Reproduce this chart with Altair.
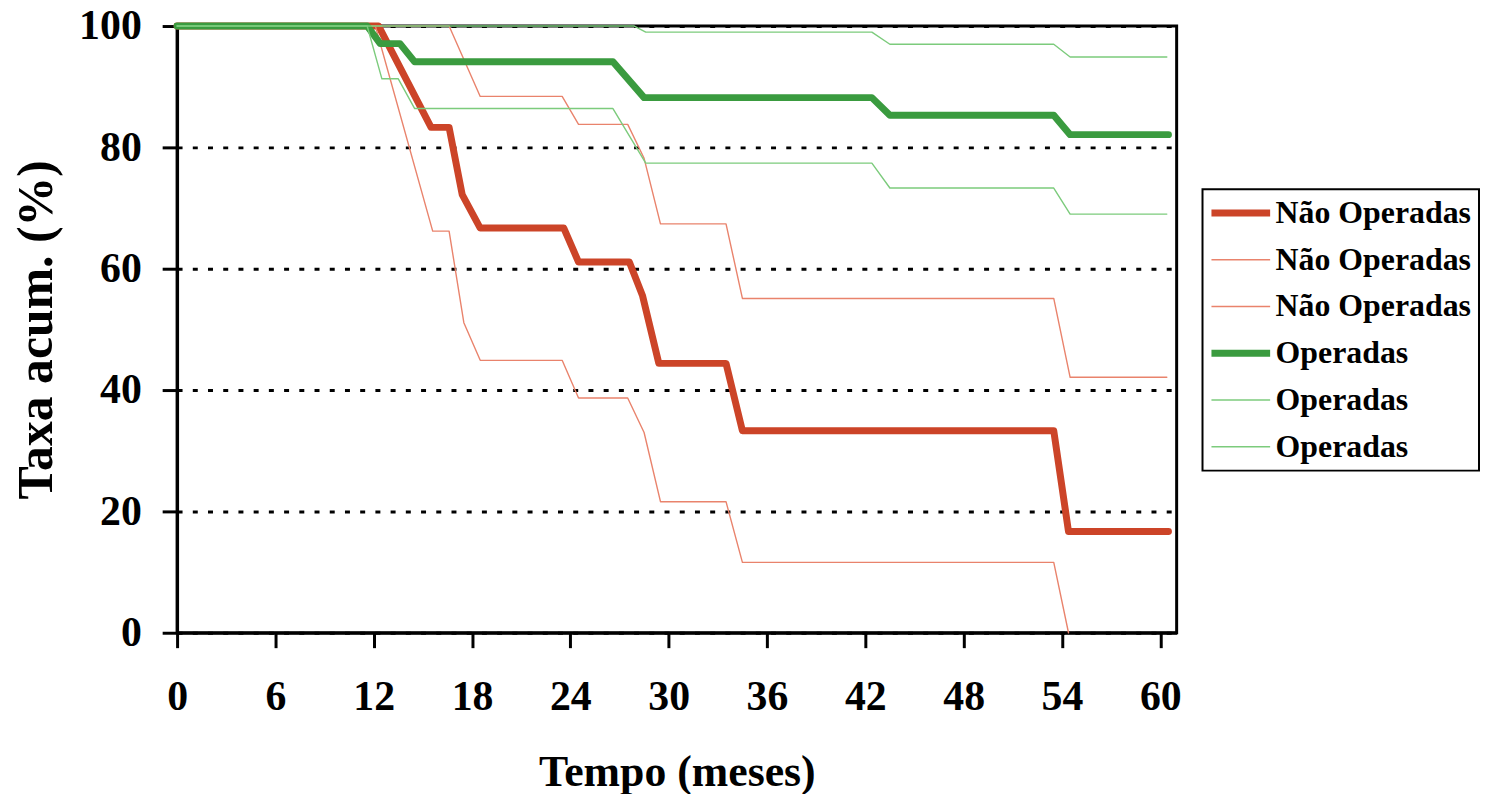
import altair as alt
import pandas as pd

# ---- data ----
series_names = [
    "Não Operadas",
    "Não Operadas · IC superior",
    "Não Operadas · IC inferior",
    "Operadas",
    "Operadas · IC superior",
    "Operadas · IC inferior",
]

nao_t = [0, 12.3, 15.5, 16.6, 17.4, 18.5, 23.6, 24.5, 27.6, 28.4, 29.4, 33.5, 34.5, 53.5, 54.4, 60.5]
nao_v = [100, 100, 83.3, 83.3, 72.2, 66.7, 66.7, 61.1, 61.1, 55.6, 44.4, 44.4, 33.3, 33.3, 16.7, 16.7]

nao_sup_t = [0, 16.6, 18.5, 23.5, 24.5, 27.5, 28.5, 29.5, 33.5, 34.5, 53.5, 54.5, 60.4]
nao_sup_v = [100, 100, 88.4, 88.4, 83.8, 83.8, 78.2, 67.4, 67.4, 55.1, 55.1, 42.1, 42.1]

nao_inf_t = [0, 12.1, 15.6, 16.6, 17.5, 18.5, 23.5, 24.5, 27.5, 28.5, 29.5, 33.5, 34.5, 53.5, 54.4]
nao_inf_v = [100, 100, 66.2, 66.2, 51.1, 44.9, 44.9, 38.7, 38.7, 33.0, 21.6, 21.6, 11.6, 11.6, 0]

op_t = [0, 11.6, 12.4, 13.6, 14.5, 26.6, 28.5, 42.4, 43.5, 53.5, 54.5, 60.5]
op_v = [100, 100, 97.1, 97.1, 94.1, 94.1, 88.2, 88.2, 85.3, 85.3, 82.1, 82.1]

op_sup_t = [0, 27.9, 28.6, 42.4, 43.5, 53.5, 54.5, 60.4]
op_sup_v = [100, 100, 99.0, 99.0, 97.0, 97.0, 94.9, 94.9]

op_inf_t = [0, 11.6, 12.5, 13.5, 14.5, 26.6, 28.6, 42.4, 43.5, 53.5, 54.5, 60.4]
op_inf_v = [100, 100, 91.3, 91.3, 86.4, 86.4, 77.4, 77.4, 73.3, 73.3, 69.0, 69.0]

x_ticks = [0, 6, 12, 18, 24, 30, 36, 42, 48, 54, 60]
y_ticks = [0, 20, 40, 60, 80, 100]

# ---- styles ----
series_colors = ["#CC4428", "#E9836C", "#E9836C", "#3A9B3F", "#7CCB7C", "#7CCB7C"]
series_widths = [7, 1.4, 1.4, 7, 1.4, 1.4]

all_t = [nao_t, nao_sup_t, nao_inf_t, op_t, op_sup_t, op_inf_t]
all_v = [nao_v, nao_sup_v, nao_inf_v, op_v, op_sup_v, op_inf_v]

rows = []
for i, (name, ts, vs) in enumerate(zip(series_names, all_t, all_v)):
    for t, v in zip(ts, vs):
        rows.append({"serie": name, "tempo": t, "taxa": v, "largura": series_widths[i], "ordem": i})
df = pd.DataFrame(rows)

FONT = "Liberation Serif"
width_list = "[" + ",".join(str(w) for w in series_widths) + "]"
width_expr = f"(isValid(datum) && isValid(datum.index) ? {width_list}[datum.index] : {max(series_widths)})"

legend = alt.Legend(
    title=None,
    orient="none",
    legendX=1031,
    legendY=164,
    symbolType="M-2.95,0H2.95",
    symbolSize=400,
    symbolOffset=14.5,
    symbolStrokeWidth=alt.ExprRef(expr=width_expr),
    labelOffset=19,
    labelFont=FONT,
    labelFontSize=32,
    labelFontWeight="bold",
    labelColor="black",
    labelLimit=400,
    labelExpr="split(datum.label, ' · ')[0]",
    padding=8,
    rowPadding=15,
    strokeColor="black",
    fillColor="white",
)

chart = (
    alt.Chart(df)
    .mark_line(strokeCap="round", strokeJoin="round")
    .encode(
        x=alt.X(
            "tempo:Q",
            scale=alt.Scale(domain=[0, 61], nice=False, zero=False),
            axis=alt.Axis(
                values=x_ticks,
                title="Tempo (meses)",
                grid=False,
                labelFlush=False,
                labelPadding=29,
                titlePadding=34,
                titleFontSize=44,
            ),
        ),
        y=alt.Y(
            "taxa:Q",
            scale=alt.Scale(domain=[0, 100], nice=False),
            axis=alt.Axis(
                values=y_ticks,
                title="Taxa acum. (%)",
                grid=True,
                gridColor="black",
                gridDash=[5, 10.3],
                gridWidth=3,
                labelFlush=False,
                labelPadding=21,
                titlePadding=17,
                titleFontSize=50,
            ),
        ),
        color=alt.Color(
            "serie:N",
            sort=series_names,
            scale=alt.Scale(domain=series_names, range=series_colors),
            legend=legend,
        ),
        strokeWidth=alt.StrokeWidth("largura:Q", scale=None),
        order=alt.Order("ordem:Q"),
    )
    .properties(
        width=1005,
        height=610,
        autosize=alt.AutoSizeParams(type="none"),
        padding={"left": 170, "top": 16, "right": 305, "bottom": 160},
    )
    .configure_view(stroke="black", strokeWidth=3)
    .configure_axis(
        domainColor="black",
        domainWidth=3,
        tickColor="black",
        tickWidth=3,
        tickSize=15,
        labelFont=FONT,
        labelFontSize=42,
        labelFontWeight="bold",
        labelColor="black",
        titleFont=FONT,
        titleFontWeight="bold",
        titleColor="black",
    )
    .configure_legend(strokeWidth=2)
)

chart.save("out.html", embed_options={"renderer": "svg", "actions": False})
